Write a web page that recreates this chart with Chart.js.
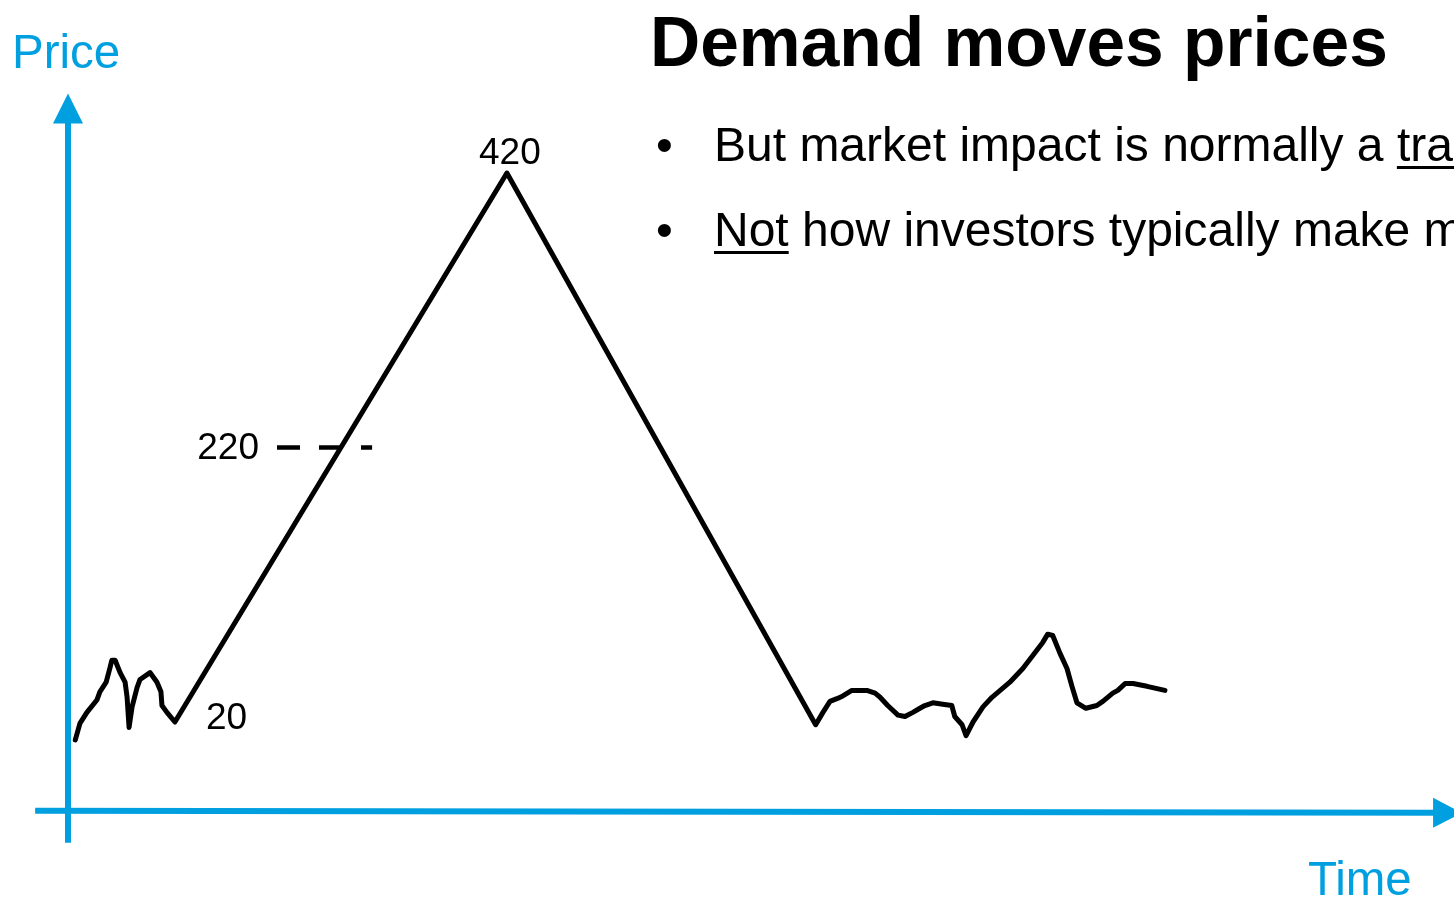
<!DOCTYPE html>
<html>
<head>
<meta charset="utf-8">
<script src="https://cdn.jsdelivr.net/npm/chart.js@4.4.1/dist/chart.umd.min.js"></script>
<style>
  html, body { margin: 0; padding: 0; background: #ffffff; overflow: hidden; }
  #wrap { position: relative; width: 1454px; height: 900px; overflow: hidden; }
  #wrap canvas { position: absolute; left: 0; top: 0; }
  .txt { position: absolute; white-space: nowrap; font-family: "Liberation Sans", Arial, sans-serif; line-height: 1; }
  .axis-name { color: #00A0E0; font-size: 47.5px; }
  .title { font-size: 69.5px; font-weight: bold; color: #000; }
  .bullet { font-size: 48px; color: #000; }
  .bullet .dot { position: absolute; left: -58px; }
  .bullet u { text-decoration-thickness: 3px; text-underline-offset: 5px; }
</style>
</head>
<body>
<div id="wrap">
  <canvas id="chart" width="1454" height="900"></canvas>
  <div class="txt axis-name" style="left:12px; top:28px;">Price</div>
  <div class="txt axis-name" style="left:1308px; top:855px;">Time</div>
  <div class="txt title" style="left:650px; top:8px;">Demand moves prices</div>
  <div class="txt bullet" style="left:714px; top:121px;"><span class="dot">•</span>But market impact is normally a <u>trading cost</u></div>
  <div class="txt bullet" style="left:714px; top:206px;"><span class="dot">•</span><u>Not</u> how investors typically make money</div>
</div>
<script>
// Price path over time: choppy trading, a demand-driven spike, then choppy trading again
const times = [0, 1.4, 3.5, 6.5, 7.4, 9.3, 10.5, 11, 12, 13.5,
  15, 15.6, 16.2, 17.1, 18.6, 19.5, 22.5, 24.6, 25.8, 26.1,
  27.6, 30, 130, 223,
  225.2, 227.3, 229.4, 231.2, 233.9, 238.4, 240.9, 242.4, 244.7, 247.8,
  249.9, 252.3, 254.4, 255.9, 258.3, 261.3, 264, 264.9, 267.1, 268.3,
  270.4, 273.4, 276.1, 281.5, 285.4, 291.4, 292.9, 294.4, 296.6, 298.7,
  300.2, 301.7, 304.4, 307.7, 309.5, 312.5, 314, 316.2, 318.6, 322.8,
  328.2];
const prices = [7, 19, 27, 36, 42, 49, 60, 65, 65, 56,
  49, 38, 16, 31, 45, 51, 56, 49, 42, 32,
  27, 20, 420, 18,
  27, 35, 37, 39, 43, 43, 41, 38, 32, 25,
  24, 27, 30, 32, 34, 33, 32, 24, 18, 10,
  20, 31, 38, 49, 59, 78, 84, 83, 70, 59,
  46, 34, 30, 32, 35, 41, 43, 48, 48, 46,
  43];

// Midpoint marker on the way up
const levelPrice = 220;
const levelTimes = [60.75, 89.4];

// Indices of the labelled turning points
const startIndex = 21;   // 20
const peakIndex = 22;    // 420

// Where the drawn axes cross, in data units
const axisOrigin = { time: -2.2, price: -44.7 };
const axisExtent = { timeMin: -12.1, timeMax: 417.7, priceMin: -68, priceMax: 478 };

const AXIS_BLUE = '#00A0E0';

const pathData = times.map((t, i) => ({ x: t, y: prices[i] }));
const levelData = levelTimes.map(t => ({ x: t, y: levelPrice }));

const axesAndLabels = {
  id: 'axesAndLabels',
  beforeDatasetsDraw(chart) {
    const { ctx, scales: { x, y } } = chart;
    const ox = x.getPixelForValue(axisOrigin.time);
    const oy = y.getPixelForValue(axisOrigin.price);
    const yTop = y.getPixelForValue(axisExtent.priceMax);
    const yBot = y.getPixelForValue(axisExtent.priceMin);
    const xLeft = x.getPixelForValue(axisExtent.timeMin);
    const xRight = x.getPixelForValue(axisExtent.timeMax);
    ctx.save();
    ctx.strokeStyle = AXIS_BLUE;
    ctx.fillStyle = AXIS_BLUE;
    ctx.lineWidth = 6;
    // vertical axis
    ctx.beginPath();
    ctx.moveTo(ox, yBot);
    ctx.lineTo(ox, yTop + 20);
    ctx.stroke();
    ctx.beginPath();
    ctx.moveTo(ox, yTop);
    ctx.lineTo(ox - 15, yTop + 30);
    ctx.lineTo(ox + 15, yTop + 30);
    ctx.closePath();
    ctx.fill();
    // horizontal axis
    ctx.beginPath();
    ctx.moveTo(xLeft, oy);
    ctx.lineTo(xRight - 20, oy + 2);
    ctx.stroke();
    ctx.beginPath();
    ctx.moveTo(xRight, oy + 2);
    ctx.lineTo(xRight - 29, oy + 2 - 15);
    ctx.lineTo(xRight - 29, oy + 2 + 15);
    ctx.closePath();
    ctx.fill();
    ctx.restore();
  },
  afterDatasetsDraw(chart) {
    const { ctx } = chart;
    const pts = chart.getDatasetMeta(0).data;
    const lvl = chart.getDatasetMeta(1).data;
    ctx.save();
    ctx.fillStyle = '#000';
    ctx.font = '37px "Liberation Sans", Arial, sans-serif';
    // peak label
    ctx.textAlign = 'center';
    ctx.textBaseline = 'alphabetic';
    ctx.fillText(String(prices[peakIndex]), pts[peakIndex].x + 3, pts[peakIndex].y - 9);
    // start of the rally
    ctx.textAlign = 'left';
    ctx.fillText(String(prices[startIndex]), pts[startIndex].x + 31, pts[startIndex].y + 7);
    // level label
    ctx.textAlign = 'right';
    ctx.textBaseline = 'middle';
    ctx.fillText(String(levelPrice), lvl[0].x - 18, lvl[0].y + 1);
    ctx.restore();
  }
};

new Chart(document.getElementById('chart'), {
  type: 'line',
  data: {
    datasets: [
      {
        data: pathData,
        borderColor: '#000',
        borderWidth: 5,
        pointRadius: 0,
        tension: 0,
        borderJoinStyle: 'round',
        borderCapStyle: 'round',
        fill: false
      },
      {
        data: levelData,
        borderColor: '#000',
        borderWidth: 4.5,
        borderDash: [23, 19],
        pointRadius: 0,
        fill: false
      }
    ]
  },
  options: {
    responsive: false,
    animation: false,
    clip: false,
    layout: { padding: 0 },
    plugins: { legend: { display: false }, title: { display: false }, tooltip: { enabled: false } },
    scales: {
      x: { type: 'linear', min: -22.68, max: 415.27, display: false },
      y: { type: 'linear', min: -109.69, max: 546.05, display: false }
    }
  },
  plugins: [axesAndLabels]
});
</script>
</body>
</html>
